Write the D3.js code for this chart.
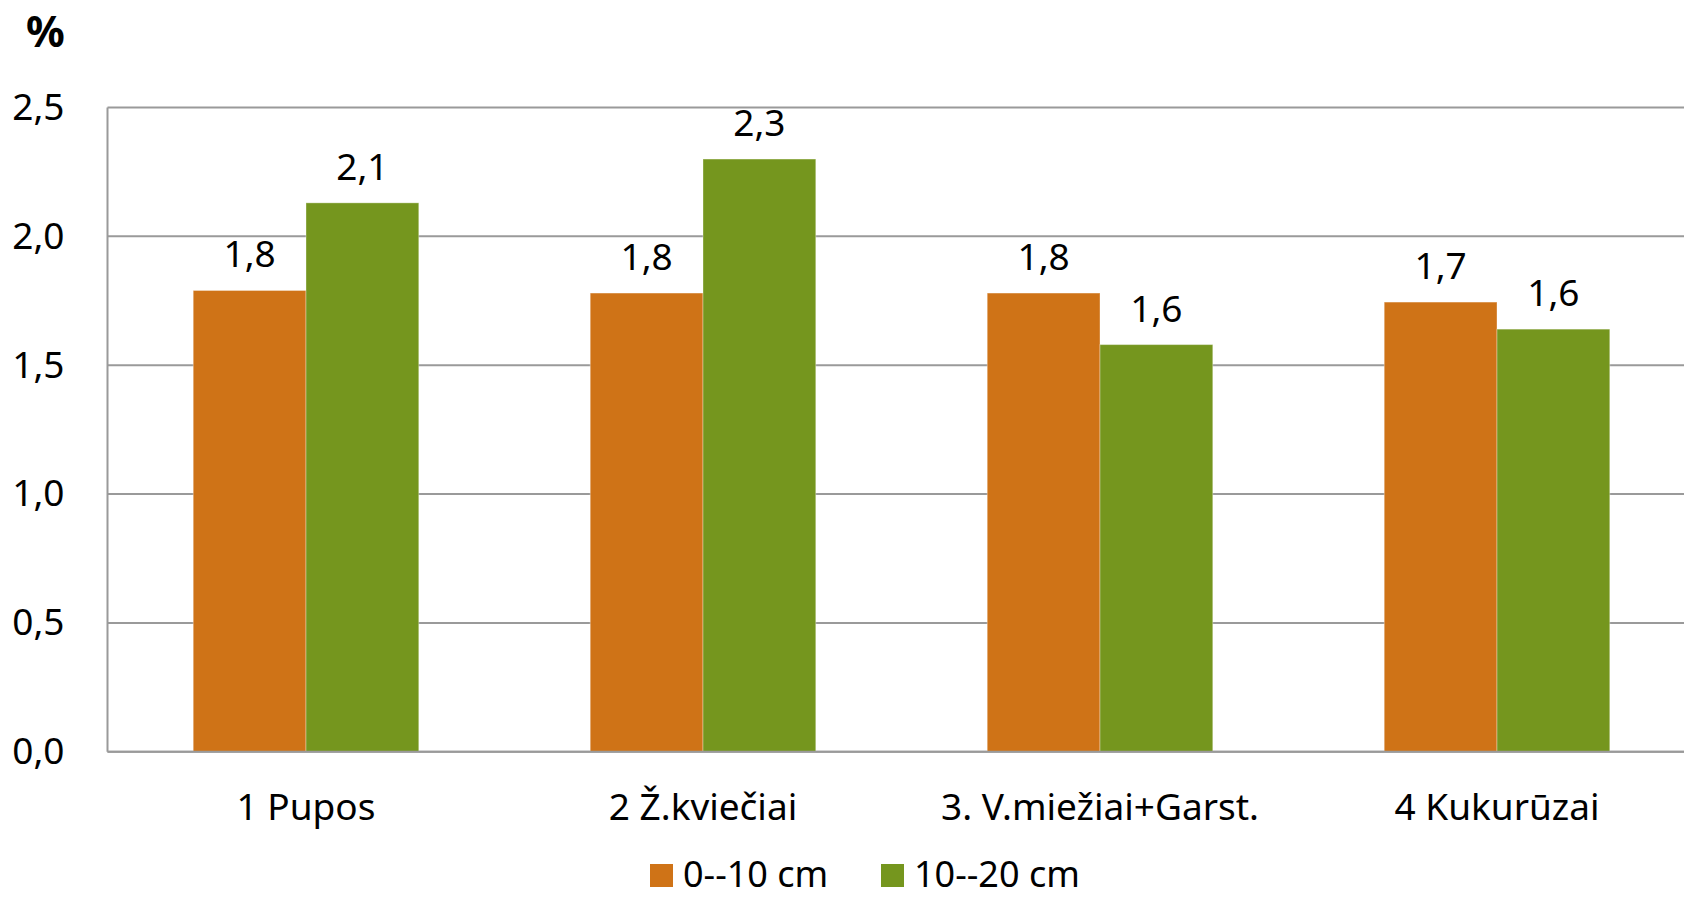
<!DOCTYPE html>
<html>
<head>
<meta charset="utf-8">
<script src="https://cdn.jsdelivr.net/npm/d3@7"></script>
<style>
  html, body { margin: 0; padding: 0; background: #fff; }
  svg { display: block; }
  text { font-family: "Noto Sans", sans-serif; fill: #000; }
</style>
</head>
<body>
<svg id="chart" width="1684" height="897"></svg>
<script>
// Categories (crop rotations) and the two sampling depths
const categories = ["1 Pupos", "2 Ž.kviečiai", "3. V.miežiai+Garst.", "4 Kukurūzai"];
const seriesNames = ["0--10 cm", "10--20 cm"];
const depth0to10 = [1.79, 1.78, 1.78, 1.745];
const depth10to20 = [2.13, 2.30, 1.58, 1.64];
const yTicks = [0, 0.5, 1.0, 1.5, 2.0, 2.5];
const colors = ["#CF7317", "#75961E"];

const svg = d3.select("#chart");
const width = 1684, height = 897;

// Plot area; the band range runs past the right edge, so the last gap is clipped
const plot = { left: 107.5, top: 107.5, bottom: 751.8, right: 1695.5 };

const x0 = d3.scaleBand().domain(categories).range([plot.left, plot.right]).padding(0);
const x1 = d3.scaleBand().domain(seriesNames).range([0, x0.bandwidth()])
  .paddingInner(0).paddingOuter(0.76);
const y = d3.scaleLinear().domain([0, 2.5]).range([plot.bottom, plot.top]);

const fmt = v => d3.format(".1f")(v).replace(".", ",");

// Horizontal gridlines
svg.append("g")
  .selectAll("line")
  .data(yTicks)
  .join("line")
  .attr("x1", plot.left).attr("x2", width)
  .attr("y1", d => y(d)).attr("y2", d => y(d))
  .attr("stroke", "#9a9a9a").attr("stroke-width", 2);

// Y axis with comma decimal labels
const yAxis = d3.axisLeft(y).tickValues(yTicks).tickSize(0).tickPadding(43).tickFormat(fmt);
const yg = svg.append("g").attr("transform", `translate(${plot.left},0)`).call(yAxis);
yg.select(".domain").remove();
yg.selectAll("text")
  .style("font-family", "'Noto Sans', sans-serif")
  .style("font-size", "37px")
  .attr("fill", "#000");

// Vertical axis line
svg.append("line")
  .attr("x1", plot.left).attr("x2", plot.left)
  .attr("y1", plot.top).attr("y2", plot.bottom)
  .attr("stroke", "#9a9a9a").attr("stroke-width", 2);

// Bars
const rows = categories.map((c, i) => ({
  cat: c,
  vals: [
    { key: seriesNames[0], v: depth0to10[i], color: colors[0] },
    { key: seriesNames[1], v: depth10to20[i], color: colors[1] }
  ]
}));

const groups = svg.append("g")
  .selectAll("g")
  .data(rows)
  .join("g")
  .attr("transform", d => `translate(${x0(d.cat)},0)`);

groups.selectAll("rect")
  .data(d => d.vals)
  .join("rect")
  .attr("x", d => x1(d.key))
  .attr("width", x1.bandwidth())
  .attr("y", d => y(d.v))
  .attr("height", d => y(0) - y(d.v))
  .attr("fill", d => d.color)
  .attr("stroke", "rgba(255,255,255,0.35)")
  .attr("stroke-width", 1);

// Value labels above the bars
groups.selectAll("text.val")
  .data(d => d.vals)
  .join("text")
  .attr("class", "val")
  .attr("x", d => x1(d.key) + x1.bandwidth() / 2)
  .attr("y", d => y(d.v) - 23)
  .attr("text-anchor", "middle")
  .style("font-size", "37px")
  .text(d => fmt(d.v));

// Horizontal axis baseline
svg.append("line")
  .attr("x1", plot.left).attr("x2", width)
  .attr("y1", plot.bottom).attr("y2", plot.bottom)
  .attr("stroke", "#9a9a9a").attr("stroke-width", 2);

// Category labels
const xAxis = d3.axisBottom(x0).tickSize(0).tickPadding(0);
const xg = svg.append("g").attr("transform", `translate(0,${plot.bottom})`).call(xAxis);
xg.select(".domain").remove();
xg.selectAll("text")
  .attr("dy", null)
  .attr("y", 68)
  .style("font-family", "'Noto Sans', sans-serif")
  .style("font-size", "37px")
  .attr("fill", "#000");

// Unit label
svg.append("text")
  .attr("x", 26).attr("y", 47)
  .style("font-size", "43px")
  .style("font-weight", "bold")
  .text("%");

// Legend
const legendItems = [
  { name: seriesNames[0], color: colors[0], x: 650 },
  { name: seriesNames[1], color: colors[1], x: 881 }
];
const lg = svg.append("g")
  .selectAll("g")
  .data(legendItems)
  .join("g")
  .attr("transform", d => `translate(${d.x},0)`);
lg.append("rect")
  .attr("x", 0).attr("y", 864)
  .attr("width", 23).attr("height", 23)
  .attr("fill", d => d.color);
lg.append("text")
  .attr("x", 33).attr("y", 887)
  .style("font-size", "36px")
  .text(d => d.name);
</script>
</body>
</html>
